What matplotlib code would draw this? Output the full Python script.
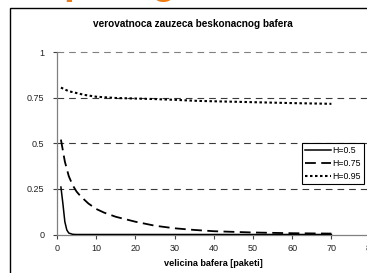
import matplotlib
matplotlib.use("Agg")
import matplotlib.pyplot as plt
from matplotlib.patches import Rectangle

plt.rcParams['font.family'] = ['Liberation Sans', 'DejaVu Sans']

# ---- data ----
x_h05 = [1, 1.5, 2, 2.5, 3, 4, 5, 10, 20, 30, 40, 50, 60, 70]
y_h05 = [0.26, 0.17, 0.07, 0.025, 0.008, 0.001, 0, 0, 0, 0, 0, 0, 0, 0]

x_h075 = [1, 2, 3, 4, 5, 6, 7, 8, 10, 12, 15, 20, 25, 30, 35, 40, 50, 60, 70]
y_h075 = [0.52, 0.40, 0.32, 0.27, 0.235, 0.21, 0.19, 0.17, 0.14, 0.12, 0.097,
          0.07, 0.048, 0.034, 0.025, 0.018, 0.011, 0.007, 0.005]

x_h095 = [1, 2, 3, 5, 7, 10, 15, 20, 25, 30, 36, 40, 50, 60, 70]
y_h095 = [0.805, 0.795, 0.785, 0.775, 0.765, 0.755, 0.748, 0.745, 0.742,
          0.738, 0.732, 0.73, 0.725, 0.72, 0.716]

series_labels = ['H=0.5', 'H=0.75', 'H=0.95']
x_ticks = [0, 10, 20, 30, 40, 50, 60, 70, 80]
y_ticks = [0, 0.25, 0.5, 0.75, 1]
y_tick_labels = ['0', '0.25', '0.5', '0.75', '1']
title = 'verovatnoca zauzeca beskonacnog bafera'
xlabel = 'velicina bafera [paketi]'

W, H = 367, 273
fig = plt.figure(figsize=(W / 100, H / 100), dpi=100)
fig.patch.set_facecolor('white')

# cropped orange slide heading letters: clipped to a thin strip at the top
ax_top = fig.add_axes([0, 1 - 3.4 / H, 1, 3.4 / H])
ax_top.set_axis_off()
for xpx, ch in [(63, 'p'), (151, 'g')]:
    ax_top.text(xpx / W, 1 + 6.5 / H, ch, color='#F07C14', fontsize=28,
                fontweight='bold', ha='left', va='baseline',
                transform=fig.transFigure, clip_on=True)

# outer chart frame (extends beyond the image)
fig.patches.append(Rectangle((10 / W, -0.1), 1.2, 1 - 7.5 / H + 0.1,
                             transform=fig.transFigure, fill=False,
                             edgecolor='black', linewidth=1.0, clip_on=False))

left, right = 57 / W, 370.6 / W
bottom, top = (H - 234.5) / H, (H - 52) / H
ax = fig.add_axes([left, bottom, right - left, top - bottom])
ax.set_xlim(0, 80)
ax.set_ylim(0, 1)

grid_col = '#3a3a3a'
for yv in y_ticks[1:]:
    ax.axhline(yv, color=grid_col if yv < 1 else '#808080', linewidth=0.8,
               dashes=(6, 4.5), zorder=1, clip_on=False)

ax.plot(x_h05, y_h05, color='black', linewidth=1.1, linestyle='-',
        label=series_labels[0], zorder=3)
ax.plot(x_h075, y_h075, color='black', linewidth=1.3, dashes=(6, 3),
        label=series_labels[1], zorder=3)
ax.plot(x_h095, y_h095, color='black', linewidth=1.5, dashes=(1.2, 1.2),
        label=series_labels[2], zorder=3)

for s in ['top', 'right']:
    ax.spines[s].set_visible(False)
ax.spines['left'].set_color('#808080')
ax.spines['bottom'].set_color('#808080')
ax.spines['left'].set_linewidth(0.9)
ax.spines['bottom'].set_linewidth(0.9)

ax.set_xticks(x_ticks)
ax.set_yticks(y_ticks)
ax.set_yticklabels(y_tick_labels)
ax.tick_params(axis='both', direction='out', length=3, width=0.8,
               color='#404040', labelsize=6.5, labelcolor='#222222')
ax.tick_params(axis='y', pad=6)
ax.tick_params(axis='x', pad=3.5)

fig.text(193 / W, 1 - 24 / H, title, ha='center', va='center',
         fontsize=7.2, fontweight='bold')
fig.text(213 / W, 1 - 263 / H, xlabel, ha='center', va='center',
         fontsize=6.6, fontweight='bold')

leg = ax.legend(loc='upper left', bbox_to_anchor=(302 / W, 1 - 143 / H),
                bbox_transform=fig.transFigure, fontsize=6.3, frameon=True,
                fancybox=False, edgecolor='black', framealpha=1,
                handlelength=3.0, handletextpad=0.2, borderpad=0.3,
                labelspacing=0.5, borderaxespad=0)
leg.get_frame().set_linewidth(0.8)

fig.savefig('out.png', dpi=100)
